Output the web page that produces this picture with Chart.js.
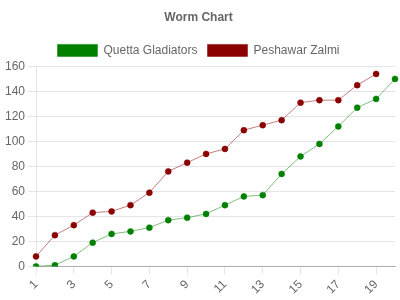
<!DOCTYPE html>
<html><head><meta charset="utf-8">
<script src="https://cdn.jsdelivr.net/npm/chart.js@4/dist/chart.umd.min.js"></script>
<style>html,body{margin:0;padding:0;background:#fff}#wrap{width:400px;height:300px}</style>
</head><body><div id="wrap"><canvas id="c"></canvas></div>
<script>
const overs = ['1','2','3','4','5','6','7','8','9','10','11','12','13','14','15','16','17','18','19','20'];
const quetta = [0,1,8,19,26,28,31,37,39,42,49,56,57,74,88,98,112,127,134,150];
const peshawar = [8,25,33,43,44,49,59,76,83,90,94,109,113,117,131,133,133,145,154];
const yTicks = [0,20,40,60,80,100,120,140,160];

Chart.defaults.font.family = "'Liberation Sans', Arial, sans-serif";
Chart.defaults.font.size = 12;
Chart.defaults.color = '#666';

new Chart(document.getElementById('c'), {
  type: 'line',
  data: {
    labels: overs,
    datasets: [
      {label: 'Quetta Gladiators', data: quetta, borderColor: 'rgba(0,128,0,0.5)', backgroundColor: '#008000',
       pointBackgroundColor: '#008000', pointBorderColor: 'rgba(0,128,0,0.5)', borderWidth: 1, pointRadius: 3, pointBorderWidth: 1, fill: false, tension: 0},
      {label: 'Peshawar Zalmi', data: peshawar, borderColor: 'rgba(139,0,0,0.5)', backgroundColor: '#8b0000',
       pointBackgroundColor: '#8b0000', pointBorderColor: 'rgba(139,0,0,0.5)', borderWidth: 1, pointRadius: 3, pointBorderWidth: 1, fill: false, tension: 0}
    ]
  },
  options: {
    responsive: true, maintainAspectRatio: false, animation: false,
    layout: {padding: {left: 2, right: 5, top: 0, bottom: 0}},
    plugins: {
      title: {display: true, text: 'Worm Chart', font: {size: 12, weight: 'bold'}, color: '#666', padding: {top: 10, bottom: 10}},
      legend: {labels: {boxWidth: 40, boxHeight: 12, font: {size: 12}, color: '#666'}},
      tooltip: {enabled: false}
    },
    scales: {
      x: {offset: false,
          grid: {drawOnChartArea: false, drawTicks: true, tickLength: 8, color: 'rgba(0,0,0,0.1)'},
          border: {color: 'rgba(0,0,0,0.25)'},
          ticks: {autoSkip: false, maxRotation: 45, minRotation: 45, font: {size: 12},
                  callback: function(v, i) { return i % 2 === 0 ? overs[i] : null; }}},
      y: {min: yTicks[0], max: yTicks[yTicks.length-1],
          grid: {color: 'rgba(0,0,0,0.1)', tickLength: 8},
          border: {color: 'rgba(0,0,0,0.1)'},
          ticks: {stepSize: 20, font: {size: 12}}}
    }
  }
});
</script></body></html>
